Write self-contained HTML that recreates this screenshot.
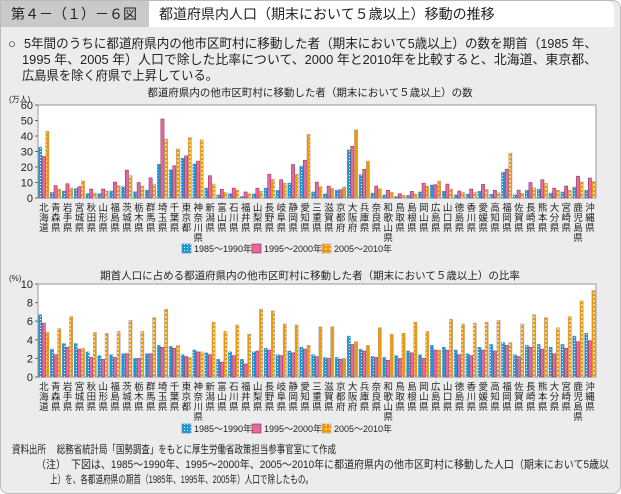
<!DOCTYPE html>
<html><head><meta charset="utf-8">
<style>
body{margin:0;width:621px;height:494px;background:#fff;font-family:"Liberation Sans","Noto Sans CJK JP",sans-serif;overflow:hidden}
#wrap{position:absolute;left:0;top:0;width:619px;height:492px;background:#ececec;border:1px solid #bbb;border-radius:0 8px 8px 8px}
.t{position:absolute;white-space:nowrap;color:#222}
</style></head><body>
<div id="wrap">
<div class="t" style="left:0;top:0;width:148px;height:26px;background:#c9c9c9;font-size:14px;line-height:26px;padding-left:10px;box-sizing:border-box">第４－（１）－６図</div>
<div class="t" style="left:148px;top:0;width:465px;height:26px;background:#fff;font-size:14px;line-height:26px;padding-left:10px;box-sizing:border-box;border-radius:0 8px 0 0">都道府県内人口（期末において５歳以上）移動の推移</div>
</div>
<svg id="svg" width="621" height="494" style="position:absolute;left:0;top:0">
<defs>
<pattern id="pb" width="3" height="3" patternUnits="userSpaceOnUse"><rect width="3" height="3" fill="#1b98d5"/><rect x="1" y="1" width="1" height="1" fill="#fff"/></pattern>
<pattern id="po" width="4" height="4" patternUnits="userSpaceOnUse"><rect width="4" height="4" fill="#f39800"/><rect x="1.5" y="0" width="1" height="2" fill="#fff"/></pattern>
</defs>
<g font-family="Liberation Sans, Noto Sans CJK JP, sans-serif" fill="#222">
<text x="8" y="48" font-size="13">○</text>
<text x="24" y="48" font-size="13" textLength="573" lengthAdjust="spacingAndGlyphs">5年間のうちに都道府県内の他市区町村に移動した者（期末において5歳以上）の数を期首（1985 年、</text>
<text x="22" y="64" font-size="13" textLength="575" lengthAdjust="spacingAndGlyphs">1995 年、2005 年）人口で除した比率について、2000 年と2010年を比較すると、北海道、東京都、</text>
<text x="22" y="80" font-size="13" textLength="196" lengthAdjust="spacingAndGlyphs">広島県を除く府県で上昇している。</text>
<text x="12" y="453" font-size="11" textLength="324" lengthAdjust="spacingAndGlyphs">資料出所　 総務省統計局「国勢調査」をもとに厚生労働省政策担当参事官室にて作成</text>
<text x="36" y="468" font-size="11" textLength="573" lengthAdjust="spacingAndGlyphs">（注）　下図は、1985～1990年、1995～2000年、2005～2010年に都道府県内の他市区町村に移動した人口（期末において5歳以</text>
<text x="50" y="483" font-size="11" textLength="263" lengthAdjust="spacingAndGlyphs">上）を、各都道府県の期首（1985年、1995年、2005年）人口で除したもの。</text>
</g>
</svg>
<script>
const prefs=["北海道","青森県","岩手県","宮城県","秋田県","山形県","福島県","茨城県","栃木県","群馬県","埼玉県","千葉県","東京都","神奈川県","新潟県","富山県","石川県","福井県","山梨県","長野県","岐阜県","静岡県","愛知県","三重県","滋賀県","京都府","大阪府","兵庫県","奈良県","和歌山県","鳥取県","島根県","岡山県","広島県","山口県","徳島県","香川県","愛媛県","高知県","福岡県","佐賀県","長崎県","熊本県","大分県","宮崎県","鹿児島県","沖縄県"];
const seriesNames=["1985～1990年","1995～2000年","2005～2010年"];
const c1_1985=[32.8,3.6,4.5,6,2.8,2.8,4.5,7.3,4,5.1,21.8,18.2,25.7,22,6.4,2,2.8,1,2.6,6.4,5,9.6,20.6,3.9,2.6,5.1,31,15,3.2,2,1,1.7,3.9,8.4,4.3,2,2.4,4.3,2.4,16.7,2,5,5.6,3.2,3.9,7.1,5.1];
const c1_1995=[26.8,8,9.2,7.3,5.8,5.8,10.3,18,10,13,51,20.8,27.2,23.8,14.4,5.6,6.4,3.9,6.4,15.4,11.8,21.6,24.4,10.3,7.7,5.4,33.4,18.6,7.7,5,2.8,4.3,9.6,8.6,9,4.5,5.8,8.8,5,18.6,5.1,10,11.8,6.4,7.7,14.1,12.9];
const c1_2005=[43,5.8,6.4,11,3.2,4.7,8,14.4,7.7,9,38,31.7,39,37.5,9,3.6,5.1,2.8,4.3,12,9.6,15.4,41,7.3,6.2,7.1,44,23.8,6,3.6,1.7,2.6,7.7,11,5.8,3.6,3.6,5.6,3.4,29,3,6.6,9.4,5,5,10.3,10.7];
const c2_1985=[6.7,3.0,3.6,3.6,2.7,2.3,2.4,2.5,2.0,2.5,3.4,3.3,2.4,2.9,2.6,1.9,2.7,1.9,2.7,3.1,2.4,2.8,3.2,2.4,2.1,2.1,4.4,3.0,2.2,2.1,2.3,2.8,2.4,3.4,3.2,2.9,2.5,3.2,3.5,3.7,2.4,3.4,3.5,3.2,3.5,4.4,4.7];
const c2_1995=[5.8,2.4,3.2,3.0,2.1,1.9,2.1,2.5,2.0,2.5,3.2,3.1,2.2,2.7,2.4,1.6,2.3,1.4,2.8,2.9,2.3,2.6,3.0,2.2,2.0,1.9,3.5,2.8,2.1,1.8,2.0,2.6,2.0,2.9,2.9,2.4,2.3,2.9,2.8,3.4,2.2,3.2,3.0,2.5,3.1,3.8,3.9];
const c2_2005=[4.8,5.2,6.5,3.1,4.8,4.7,4.9,6.1,4.9,6.4,7.3,3.4,2.1,2.7,5.9,4.9,5.6,4.6,7.3,7.1,5.7,5.6,3.4,5.4,5.4,2.0,3.8,3.4,5.3,4.6,4.7,5.9,4.9,2.9,6.2,5.7,5.8,5.9,6.1,3.7,5.7,6.7,6.4,5.3,6.5,8.2,9.3];
const ticks1=[0,10,20,30,40,50,60];
const ticks2=[0,2,4,6,8,10];

const svg=document.getElementById('svg');
const NS='http://www.w3.org/2000/svg';
function mk(tag,attrs,parent){const e=document.createElementNS(NS,tag);for(const k in attrs)e.setAttribute(k,attrs[k]);(parent||svg).appendChild(e);return e;}
const X0=38,X1=596,GW=(X1-X0)/prefs.length;
const fills=["url(#pb)","#e8679e","url(#po)"];
const strokes=["#5a8db0","#7a2d4f","#a0a0a0"];
function chart(id,top,bot,max,ticks,data,title,unit,titleY,labY,legY){
  const g=mk('g',{'font-family':'Liberation Sans, Noto Sans CJK JP, sans-serif'});
  
  
  const y=v=>bot-(v/max)*(bot-top);
  const t=mk('text',{x:310,y:titleY,'font-size':10.5,'text-anchor':'middle',fill:'#222'},g);t.textContent=title;
  
  
  const u=mk('text',{x:9,y:top-3,'font-size':8,fill:'#222'},g);u.textContent=unit;
  
  
  const pa=mk('rect',{x:X0,y:top,width:X1-X0,height:bot-top,fill:'#fff',stroke:'#999','stroke-width':1},g);
  
  
  ticks.forEach(v=>{const tl=mk('text',{x:33,y:y(v)+4,'font-size':11,'text-anchor':'end',fill:'#222'},g);tl.textContent=v;
    
    
    mk('line',{x1:X0-3,x2:X0,y1:y(v),y2:y(v),stroke:'#666'},g);});
  const bw=(GW-1)/3;
  data.forEach((arr,s)=>{arr.forEach((v,i)=>{
    const r=mk('rect',{x:X0+i*GW+0.5+s*bw,y:y(v),width:bw-0.4,height:bot-y(v),fill:fills[s],stroke:strokes[s],'stroke-width':0.5},g);
    
    
  });});
  prefs.forEach((p,i)=>{const tx=mk('text',{x:X0+i*GW+GW/2,y:labY,'font-size':9.5,'text-anchor':'middle',fill:'#222'},g);
    
    
    [...p].forEach((ch,j)=>{const ts=mk('tspan',{x:X0+i*GW+GW/2,dy:j?10:0},tx);ts.textContent=ch;});});
  const lx=[218,288,358];
  seriesNames.forEach((n,s)=>{
    const sw=mk('rect',{x:lx[s]-36,y:legY-8,width:9,height:9,fill:fills[s],stroke:strokes[s],'stroke-width':0.6},g);
    
    
    const lt=mk('text',{x:lx[s]-24,y:legY,'font-size':9,fill:'#222'},g);lt.textContent=n;
    
    
  });
}
chart('count-chart',105,198,60,ticks1,[c1_1985,c1_1995,c1_2005],'都道府県内の他市区町村に移動した者（期末において５歳以上）の数','(万人)',96,211,252);
chart('ratio-chart',284,377,10,ticks2,[c2_1985,c2_1995,c2_2005],'期首人口に占める都道府県内の他市区町村に移動した者（期末において５歳以上）の比率','(%)',279,390,432);
</script>
</body></html>
